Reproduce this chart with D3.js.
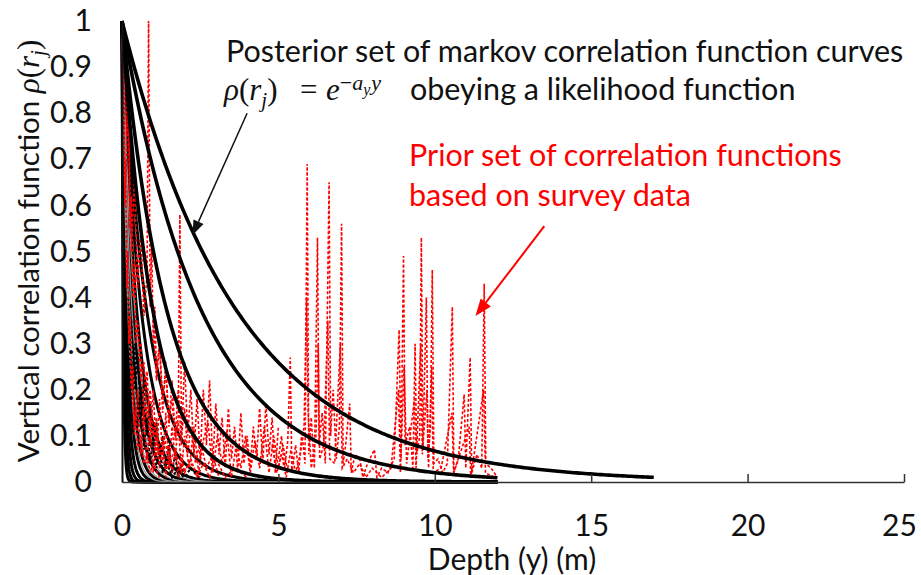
<!DOCTYPE html>
<html><head><meta charset="utf-8">
<script src="https://cdn.jsdelivr.net/npm/d3@7"></script>
<style>html,body{margin:0;padding:0;background:#fff;}svg{display:block;}</style>
</head><body>
<script>
// ---------------- DATA ----------------
const xTicks = [0, 5, 10, 15, 20, 25];
const yTicks = [0, 0.1, 0.2, 0.3, 0.4, 0.5, 0.6, 0.7, 0.8, 0.9, 1];

// posterior Markov curves rho = exp(-a*y): decay rates a_y and the depth where each curve stops
const posteriorRates = [0.27, 0.39, 0.69, 1.0];
const posteriorEnds  = [17, 12, 12, 12];
const bundleRates = [1.25, 1.6, 2.1, 2.7, 3.4, 4.5, 6, 8, 11, 16, 25];
const bundleEnds  = [12, 12, 12, 12, 12, 12, 12, 12, 12, 12, 12];
const greyRates = [2.4, 3.1, 4.0, 5.2];
const greyEnds  = [12, 12, 12, 12];

// prior (survey-based) correlation functions: [depth, rho]
const priorSteep1 = [[0,1],[0.03,0.85],[0.06,0.93],[0.09,0.6],[0.12,0.7],[0.15,0.42],[0.18,0.5],[0.22,0.3],[0.26,0.36],[0.3,0.2],[0.35,0.25],[0.4,0.12],[0.45,0.16],[0.5,0.07],[0.6,0.1],[0.7,0.04],[0.8,0.06],[0.9,0.02],[1.0,0.04],[1.2,0.01]];
const priorSteep2 = [[0,1],[0.1,0.97],[0.15,0.75],[0.2,0.85],[0.25,0.55],[0.3,0.62],[0.35,0.4],[0.4,0.48],[0.45,0.3],[0.5,0.35],[0.6,0.22],[0.7,0.26],[0.8,0.14],[0.9,0.2],[1.0,0.1],[1.1,0.14],[1.2,0.06],[1.35,0.1],[1.5,0.04],[1.7,0.07],[1.9,0.02],[2.2,0.04],[2.5,0.01]];
const priorSteep3 = [[0,1],[0.1,0.62],[0.2,0.82],[0.3,0.5],[0.4,0.66],[0.5,0.42],[0.6,0.55],[0.7,0.36],[0.8,0.45],[0.85,1.0],[0.9,0.38],[0.95,0.52],[1.0,0.3],[1.05,0.38],[1.1,0.24],[1.2,0.3],[1.3,0.18],[1.4,0.24],[1.5,0.13],[1.6,0.18],[1.7,0.09],[1.8,0.14],[1.85,0.58],[1.9,0.1],[2.0,0.16],[2.1,0.06],[2.2,0.12],[2.35,0.04],[2.5,0.09],[2.7,0.03],[2.9,0.06],[3.1,0.01]];
const priorMid1 = [[1.0,0.35],[1.1,0.22],[1.2,0.3],[1.3,0.15],[1.4,0.26],[1.5,0.12],[1.6,0.22],[1.7,0.1],[1.8,0.2],[1.9,0.08],[2.0,0.26],[2.1,0.1],[2.2,0.2],[2.3,0.06],[2.4,0.18],[2.5,0.05],[2.6,0.2],[2.7,0.08],[2.8,0.22],[2.9,0.04],[3.0,0.17],[3.1,0.06],[3.2,0.14],[3.3,0.03],[3.4,0.16],[3.5,0.05],[3.6,0.12],[3.7,0.02],[3.8,0.15],[3.9,0.04],[4.0,0.1],[4.1,0.03],[4.2,0.12],[4.3,0.05],[4.4,0.16],[4.5,0.04],[4.6,0.17],[4.7,0.06],[4.8,0.14],[4.9,0.02],[5.0,0.12]];
const priorMid2 = [[0.6,0.3],[0.7,0.12],[0.8,0.24],[0.9,0.08],[1.0,0.2],[1.1,0.05],[1.2,0.18],[1.3,0.04],[1.4,0.15],[1.5,0.03],[1.6,0.12],[1.7,0.05],[1.8,0.13],[1.9,0.02],[2.0,0.1],[2.15,0.03],[2.3,0.12],[2.45,0.02],[2.6,0.09],[2.75,0.13],[2.9,0.02],[3.05,0.1],[3.2,0.04],[3.35,0.11],[3.5,0.01],[3.65,0.08],[3.8,0.03],[3.95,0.1],[4.1,0.02],[4.25,0.09],[4.4,0.03],[4.55,0.12],[4.7,0.02],[4.85,0.1],[5.0,0.03],[5.15,0.08],[5.3,0.02]];
const priorMid3 = [[0.3,0.25],[0.4,0.1],[0.5,0.2],[0.6,0.06],[0.7,0.16],[0.8,0.04],[0.9,0.14],[1.0,0.02],[1.1,0.11],[1.2,0.03],[1.3,0.09],[1.4,0.01],[1.5,0.08],[1.6,0.02],[1.7,0.07],[1.8,0.01],[1.9,0.06],[2.0,0.02],[2.2,0.05],[2.4,0.01],[2.6,0.04],[2.8,0.01],[3.0,0.05],[3.3,0.01],[3.6,0.03],[4.0,0.01]];
const priorFar1 = [[5.0,0.05],[5.1,0.1],[5.2,0.03],[5.3,0.09],[5.38,0.27],[5.43,0.02],[5.55,0.08],[5.65,0.02],[5.75,0.11],[5.85,0.04],[5.92,0.69],[5.97,0.06],[6.05,0.14],[6.15,0.03],[6.25,0.53],[6.3,0.08],[6.4,0.15],[6.5,0.04],[6.62,0.65],[6.67,0.1],[6.75,0.2],[6.85,0.05],[6.95,0.12],[7.02,0.56],[7.07,0.04],[7.15,0.08],[7.28,0.17],[7.33,0.02],[7.45,0.06],[7.6,0.05],[7.7,0.01],[7.85,0.04],[8.07,0.07],[8.15,0.01],[8.3,0.03],[8.5,0.02],[8.7,0.05],[8.86,0.33],[8.92,0.05],[9.0,0.49],[9.05,0.08],[9.2,0.12],[9.3,0.03],[9.37,0.3],[9.42,0.06],[9.52,0.1],[9.57,0.53],[9.62,0.07],[9.73,0.4],[9.78,0.05],[9.86,0.12],[9.92,0.46],[9.97,0.04],[10.1,0.05],[10.25,0.02],[10.4,0.04],[10.56,0.38],[10.61,0.02],[10.75,0.05],[10.94,0.19],[10.99,0.03],[11.13,0.27],[11.18,0.02],[11.35,0.06],[11.5,0.03],[11.58,0.43],[11.63,0.04],[11.8,0.03],[12.0,0.01]];
const priorFar2 = [[4.8,0.08],[4.95,0.02],[5.1,0.06],[5.25,0.01],[5.4,0.07],[5.55,0.02],[5.7,0.06],[5.82,0.12],[5.9,0.4],[5.95,0.15],[6.05,0.03],[6.2,0.1],[6.27,0.3],[6.32,0.05],[6.45,0.08],[6.58,0.35],[6.64,0.05],[6.8,0.04],[6.98,0.3],[7.04,0.03],[7.2,0.05],[7.4,0.02],[7.6,0.04],[7.8,0.01],[8.0,0.03],[8.3,0.01],[8.6,0.03],[8.84,0.2],[8.9,0.02],[9.02,0.25],[9.1,0.04],[9.35,0.18],[9.4,0.03],[9.55,0.3],[9.6,0.06],[9.75,0.2],[9.8,0.03],[9.9,0.25],[9.95,0.02],[10.2,0.03],[10.55,0.15],[10.6,0.02],[10.9,0.08],[11.1,0.12],[11.15,0.01],[11.56,0.2],[11.62,0.02],[11.9,0.01]];
const priorSeries = [priorSteep1, priorSteep2, priorSteep3, priorMid1, priorMid2, priorMid3, priorFar1, priorFar2];
// dense dark dashed traces under the red set, near the origin
const darkPrior1 = [[0.3,0.35],[0.4,0.2],[0.5,0.28],[0.6,0.14],[0.7,0.22],[0.8,0.1],[0.9,0.17],[1.0,0.07],[1.1,0.13],[1.2,0.05],[1.3,0.1],[1.4,0.03],[1.5,0.08],[1.6,0.02],[1.7,0.06],[1.8,0.01],[1.9,0.04],[2.0,0.01],[2.2,0.03],[2.5,0.005]];
const darkPrior2 = [[0.2,0.4],[0.3,0.18],[0.4,0.3],[0.5,0.12],[0.6,0.2],[0.7,0.07],[0.8,0.14],[0.9,0.04],[1.0,0.1],[1.1,0.03],[1.2,0.07],[1.3,0.02],[1.4,0.05],[1.6,0.01],[1.8,0.03],[2.0,0.005]];
const darkSeries = [darkPrior1, darkPrior2];

// annotation anchors in data units: [depth, rho]
const blackArrow = [[4.0, 0.80], [2.25, 0.535]];
const redArrow = [[13.5, 0.555], [11.3, 0.36]];

// ---------------- CHART ----------------
const W = 921, H = 575;
const svg = d3.select("body").append("svg").attr("width", W).attr("height", H);
const x = d3.scaleLinear().domain([0, 25]).range([122, 904]);
const y = d3.scaleLinear().domain([0, 1]).range([482, 21]);
const FONT = "Lato, 'Open Sans', sans-serif";
const MATH = "'Liberation Serif', 'DejaVu Serif', serif";

const line = d3.line().x(d => x(d[0])).y(d => y(d[1]));
function expCurve(a, end) {
  const pts = [];
  const n = 300;
  for (let i = 0; i <= n; i++) { const t = end * Math.pow(i / n, 1.6); pts.push([t, Math.exp(-a * t)]); }
  return pts;
}

const plot = svg.append("g");
plot.selectAll("path.bundle").data(bundleRates).join("path")
  .attr("fill", "none").attr("stroke", "#000").attr("stroke-width", 3)
  .attr("d", (a, i) => line(expCurve(a, bundleEnds[i])));
plot.selectAll("path.grey").data(greyRates).join("path")
  .attr("fill", "none").attr("stroke", "#9a9a9a").attr("stroke-width", 1.3)
  .attr("d", (a, i) => line(expCurve(a, greyEnds[i])));
plot.selectAll("path.dark").data(darkSeries).join("path")
  .attr("fill", "none").attr("stroke", "#000").attr("stroke-width", 2)
  .attr("stroke-dasharray", "3 2").attr("d", line);
plot.selectAll("path.prior").data(priorSeries).join("path")
  .attr("fill", "none").attr("stroke", "#ff0000").attr("stroke-width", 1.6)
  .attr("stroke-dasharray", "3 2").attr("d", line);
plot.selectAll("path.post").data(posteriorRates).join("path")
  .attr("fill", "none").attr("stroke", "#000").attr("stroke-width", 3.6)
  .attr("d", (a, i) => line(expCurve(a, posteriorEnds[i])));

// axes
const xAxis = svg.append("g").attr("transform", `translate(0,${y(0)})`)
  .call(d3.axisBottom(x).tickValues(xTicks).tickFormat(d3.format("d")).tickSizeInner(-8).tickSizeOuter(0).tickPadding(33));
xAxis.select(".domain").attr("stroke", "#333").attr("stroke-width", 1.5);
xAxis.selectAll(".tick line").attr("stroke", "#333").attr("stroke-width", 1.5);
xAxis.selectAll(".tick").filter(d => d === 0).select("line").remove();
xAxis.selectAll("text").attr("font-family", FONT).attr("font-size", 30).attr("fill", "#111");
xAxis.selectAll(".tick").filter(d => d === 25).select("text").attr("dx", -5);

const yAxis = svg.append("g").attr("transform", `translate(${x(0)},0)`)
  .call(d3.axisLeft(y).tickValues(yTicks).tickFormat(d => d === 0 || d === 1 ? String(d) : d3.format(".1f")(d)).tickSize(0).tickPadding(30));
yAxis.select(".domain").attr("stroke", "#111").attr("stroke-width", 2);
yAxis.selectAll("text").attr("font-family", FONT).attr("font-size", 30).attr("fill", "#111");

// axis titles
svg.append("text").attr("x", 512).attr("y", 570).attr("text-anchor", "middle")
  .attr("font-family", FONT).attr("font-size", 30).attr("fill", "#111").text("Depth (y) (m)");
const yt = svg.append("text").attr("transform", "translate(39,251) rotate(-90)").attr("text-anchor", "middle")
  .attr("font-family", FONT).attr("font-size", 29.5).attr("fill", "#111");
yt.append("tspan").text("Vertical correlation function ");
yt.append("tspan").attr("font-family", MATH).attr("font-style", "italic").attr("font-size", 31).text("ρ");
yt.append("tspan").attr("font-family", MATH).attr("font-size", 31).text("(");
yt.append("tspan").attr("font-family", MATH).attr("font-style", "italic").attr("font-size", 31).text("r");
yt.append("tspan").attr("font-family", MATH).attr("font-style", "italic").attr("font-size", 21).attr("dy", 6).text("j");
yt.append("tspan").attr("font-family", MATH).attr("font-size", 31).attr("dy", -6).text(")");

// black annotation
svg.append("text").attr("x", 226).attr("y", 62).attr("font-family", FONT).attr("font-size", 30.5).attr("fill", "#111")
  .text("Posterior set of markov correlation function curves");
const eq = svg.append("text").attr("x", 224).attr("y", 100).attr("font-family", MATH).attr("font-size", 31).attr("fill", "#111");
eq.append("tspan").attr("font-style", "italic").text("ρ");
eq.append("tspan").text("(");
eq.append("tspan").attr("font-style", "italic").text("r");
eq.append("tspan").attr("font-style", "italic").attr("font-size", 21).attr("dy", 7).text("j");
eq.append("tspan").attr("dy", -7).text(")");
eq.append("tspan").attr("x", 300).text("=");
eq.append("tspan").attr("x", 326).attr("font-style", "italic").text("e");
eq.append("tspan").attr("font-size", 22).attr("dy", -10).text("−");
eq.append("tspan").attr("font-style", "italic").attr("font-size", 22).text("a");
eq.append("tspan").attr("font-style", "italic").attr("font-size", 16).attr("dy", 5).text("y");
eq.append("tspan").attr("font-style", "italic").attr("font-size", 22).attr("dy", -5).attr("dx", 1).text("y");
eq.append("tspan").attr("x", 410).attr("dy", 10).attr("font-family", FONT).attr("font-size", 30.5).text("obeying a likelihood function");

// red annotation
svg.append("text").attr("x", 409).attr("y", 166).attr("font-family", FONT).attr("font-size", 30.5).attr("fill", "#ff0000")
  .text("Prior set of correlation functions");
svg.append("text").attr("x", 409).attr("y", 206).attr("font-family", FONT).attr("font-size", 30.5).attr("fill", "#ff0000")
  .text("based on survey data");

// arrows
function arrow(pts, color, width, headLen, headW) {
  const [x1, y1] = [x(pts[0][0]), y(pts[0][1])];
  const [x2, y2] = [x(pts[1][0]), y(pts[1][1])];
  const ang = Math.atan2(y2 - y1, x2 - x1);
  const bx = x2 - headLen * Math.cos(ang), by = y2 - headLen * Math.sin(ang);
  svg.append("line").attr("x1", x1).attr("y1", y1).attr("x2", bx).attr("y2", by)
    .attr("stroke", color).attr("stroke-width", width);
  const px = -Math.sin(ang) * headW / 2, py = Math.cos(ang) * headW / 2;
  svg.append("path").attr("d", `M${x2},${y2}L${bx + px},${by + py}L${bx - px},${by - py}Z`).attr("fill", color);
}
arrow(blackArrow, "#111", 1.5, 15, 11);
arrow(redArrow, "#ff0000", 2, 17, 13);
</script>
</body></html>
